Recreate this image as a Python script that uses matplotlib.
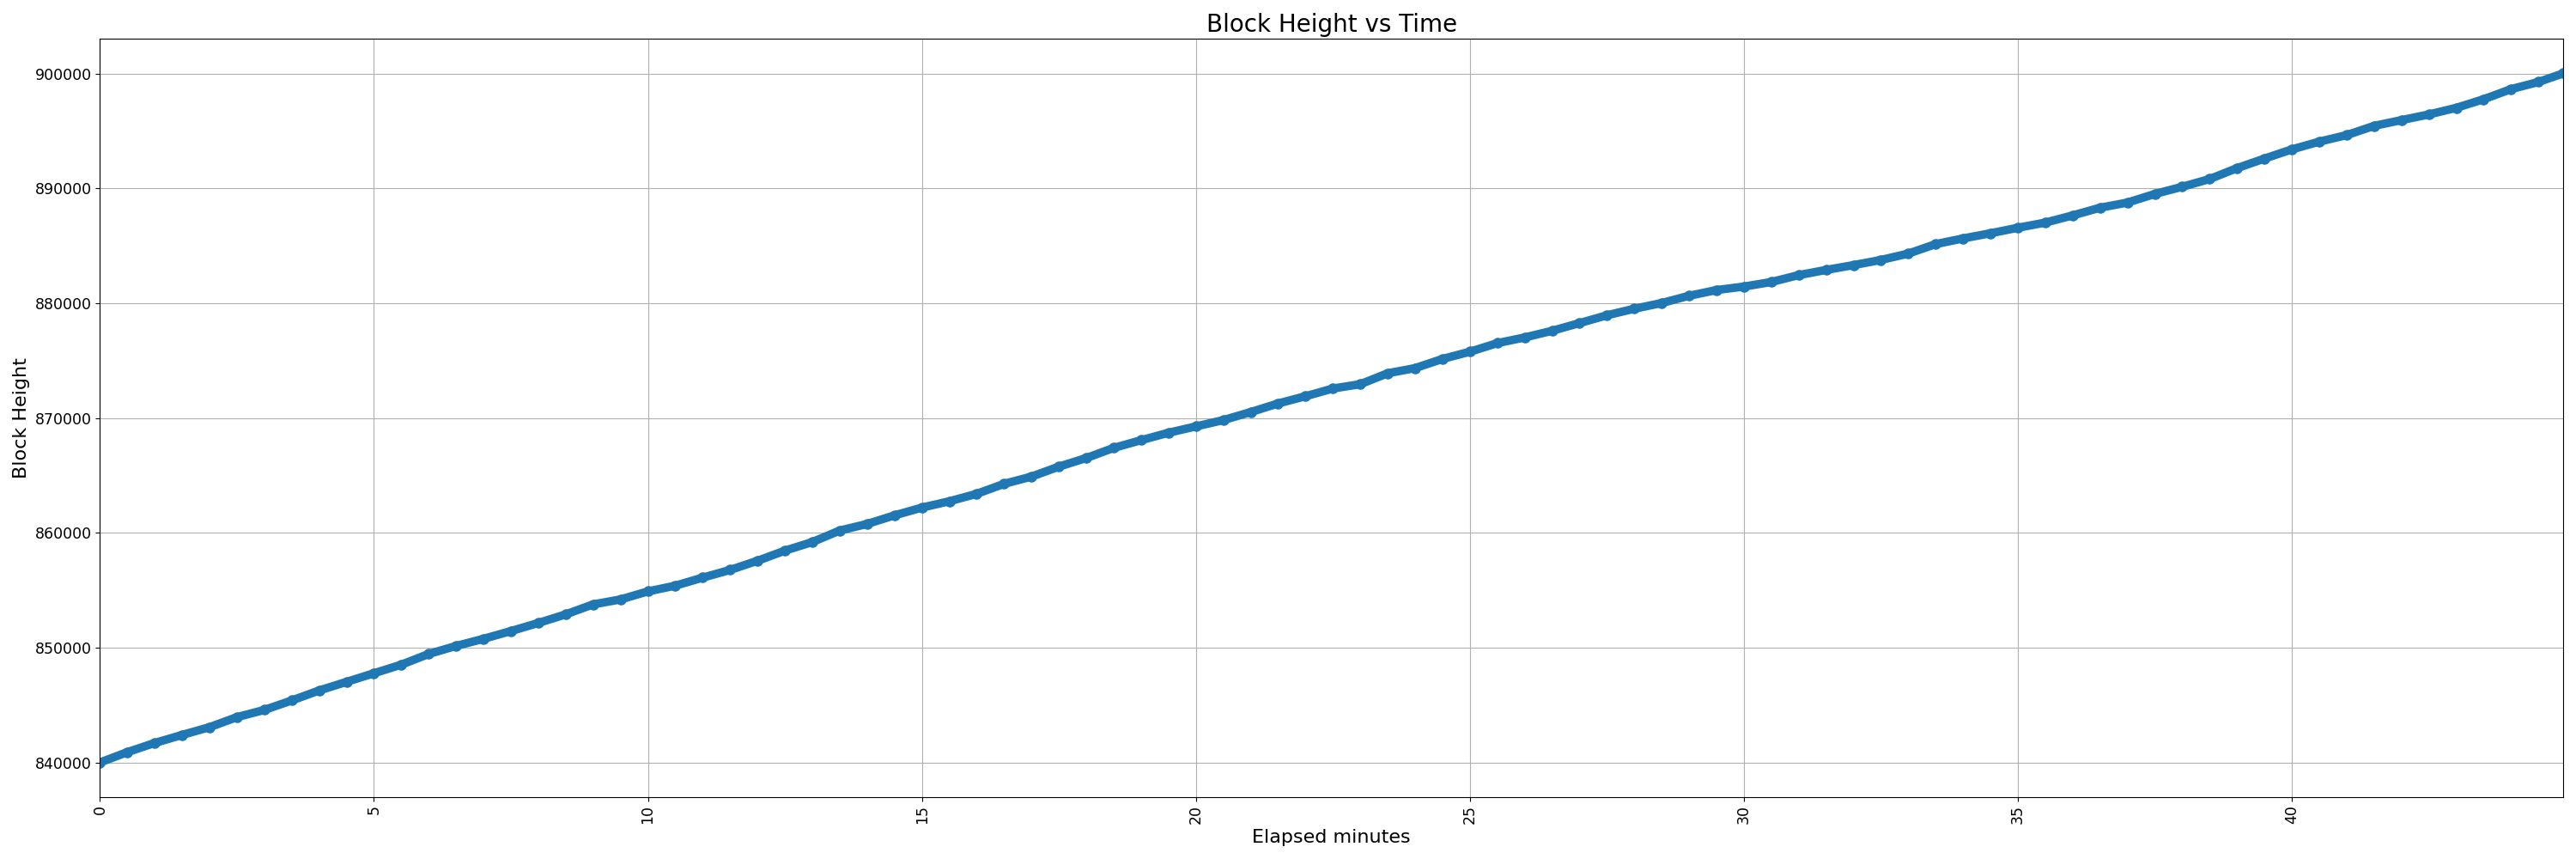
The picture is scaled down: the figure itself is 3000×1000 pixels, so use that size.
import matplotlib
matplotlib.use("Agg")
import matplotlib.pyplot as plt

# elapsed minutes (every half minute)
minutes = [0.0, 0.5, 1.0, 1.5, 2.0, 2.5, 3.0, 3.5, 4.0, 4.5,
           5.0, 5.5, 6.0, 6.5, 7.0, 7.5, 8.0, 8.5, 9.0, 9.5,
           10.0, 10.5, 11.0, 11.5, 12.0, 12.5, 13.0, 13.5, 14.0, 14.5,
           15.0, 15.5, 16.0, 16.5, 17.0, 17.5, 18.0, 18.5, 19.0, 19.5,
           20.0, 20.5, 21.0, 21.5, 22.0, 22.5, 23.0, 23.5, 24.0, 24.5,
           25.0, 25.5, 26.0, 26.5, 27.0, 27.5, 28.0, 28.5, 29.0, 29.5,
           30.0, 30.5, 31.0, 31.5, 32.0, 32.5, 33.0, 33.5, 34.0, 34.5,
           35.0, 35.5, 36.0, 36.5, 37.0, 37.5, 38.0, 38.5, 39.0, 39.5,
           40.0, 40.5, 41.0, 41.5, 42.0, 42.5, 43.0, 43.5, 44.0, 44.5,
           44.95]

block_height = [840000, 840900, 841700, 842400, 843075, 843950, 844575, 845400, 846270, 847020,
                847770, 848520, 849450, 850150, 850770, 851445, 852150, 852900, 853770, 854200,
                854900, 855400, 856100, 856770, 857570, 858450, 859200, 860200, 860775, 861525,
                862200, 862750, 863400, 864270, 864900, 865770, 866520, 867400, 868070, 868720,
                869270, 869820, 870520, 871270, 871900, 872570, 872950, 873900, 874350, 875150,
                875775, 876525, 877020, 877600, 878270, 878950, 879520, 880020, 880650, 881150,
                881450, 881850, 882450, 882900, 883320, 883770, 884325, 885150, 885645, 886095,
                886575, 887025, 887650, 888320, 888770, 889520, 890145, 890820, 891770, 892600,
                893400, 894075, 894645, 895450, 895950, 896445, 897020, 897770, 898650, 899270,
                900020]


def main():
    fig, ax = plt.subplots(figsize=(30, 10), dpi=100)

    # thick line, markers only slightly wider than the line itself
    ax.plot(minutes, block_height, marker='o', markersize=8, linewidth=7, color='#1f77b4')

    ax.set_xlim(minutes[0], minutes[-1])
    ax.set_title('Block Height vs Time', fontsize=20)
    ax.set_xlabel('Elapsed minutes', fontsize=16)
    ax.set_ylabel('Block Height', fontsize=16)
    ax.tick_params(axis='both', labelsize=12.5)
    ax.tick_params(axis='x', labelrotation=90)
    ax.grid(True)

    plt.tight_layout()
    plt.savefig('out.png')
    plt.close()


if __name__ == "__main__":
    main()
